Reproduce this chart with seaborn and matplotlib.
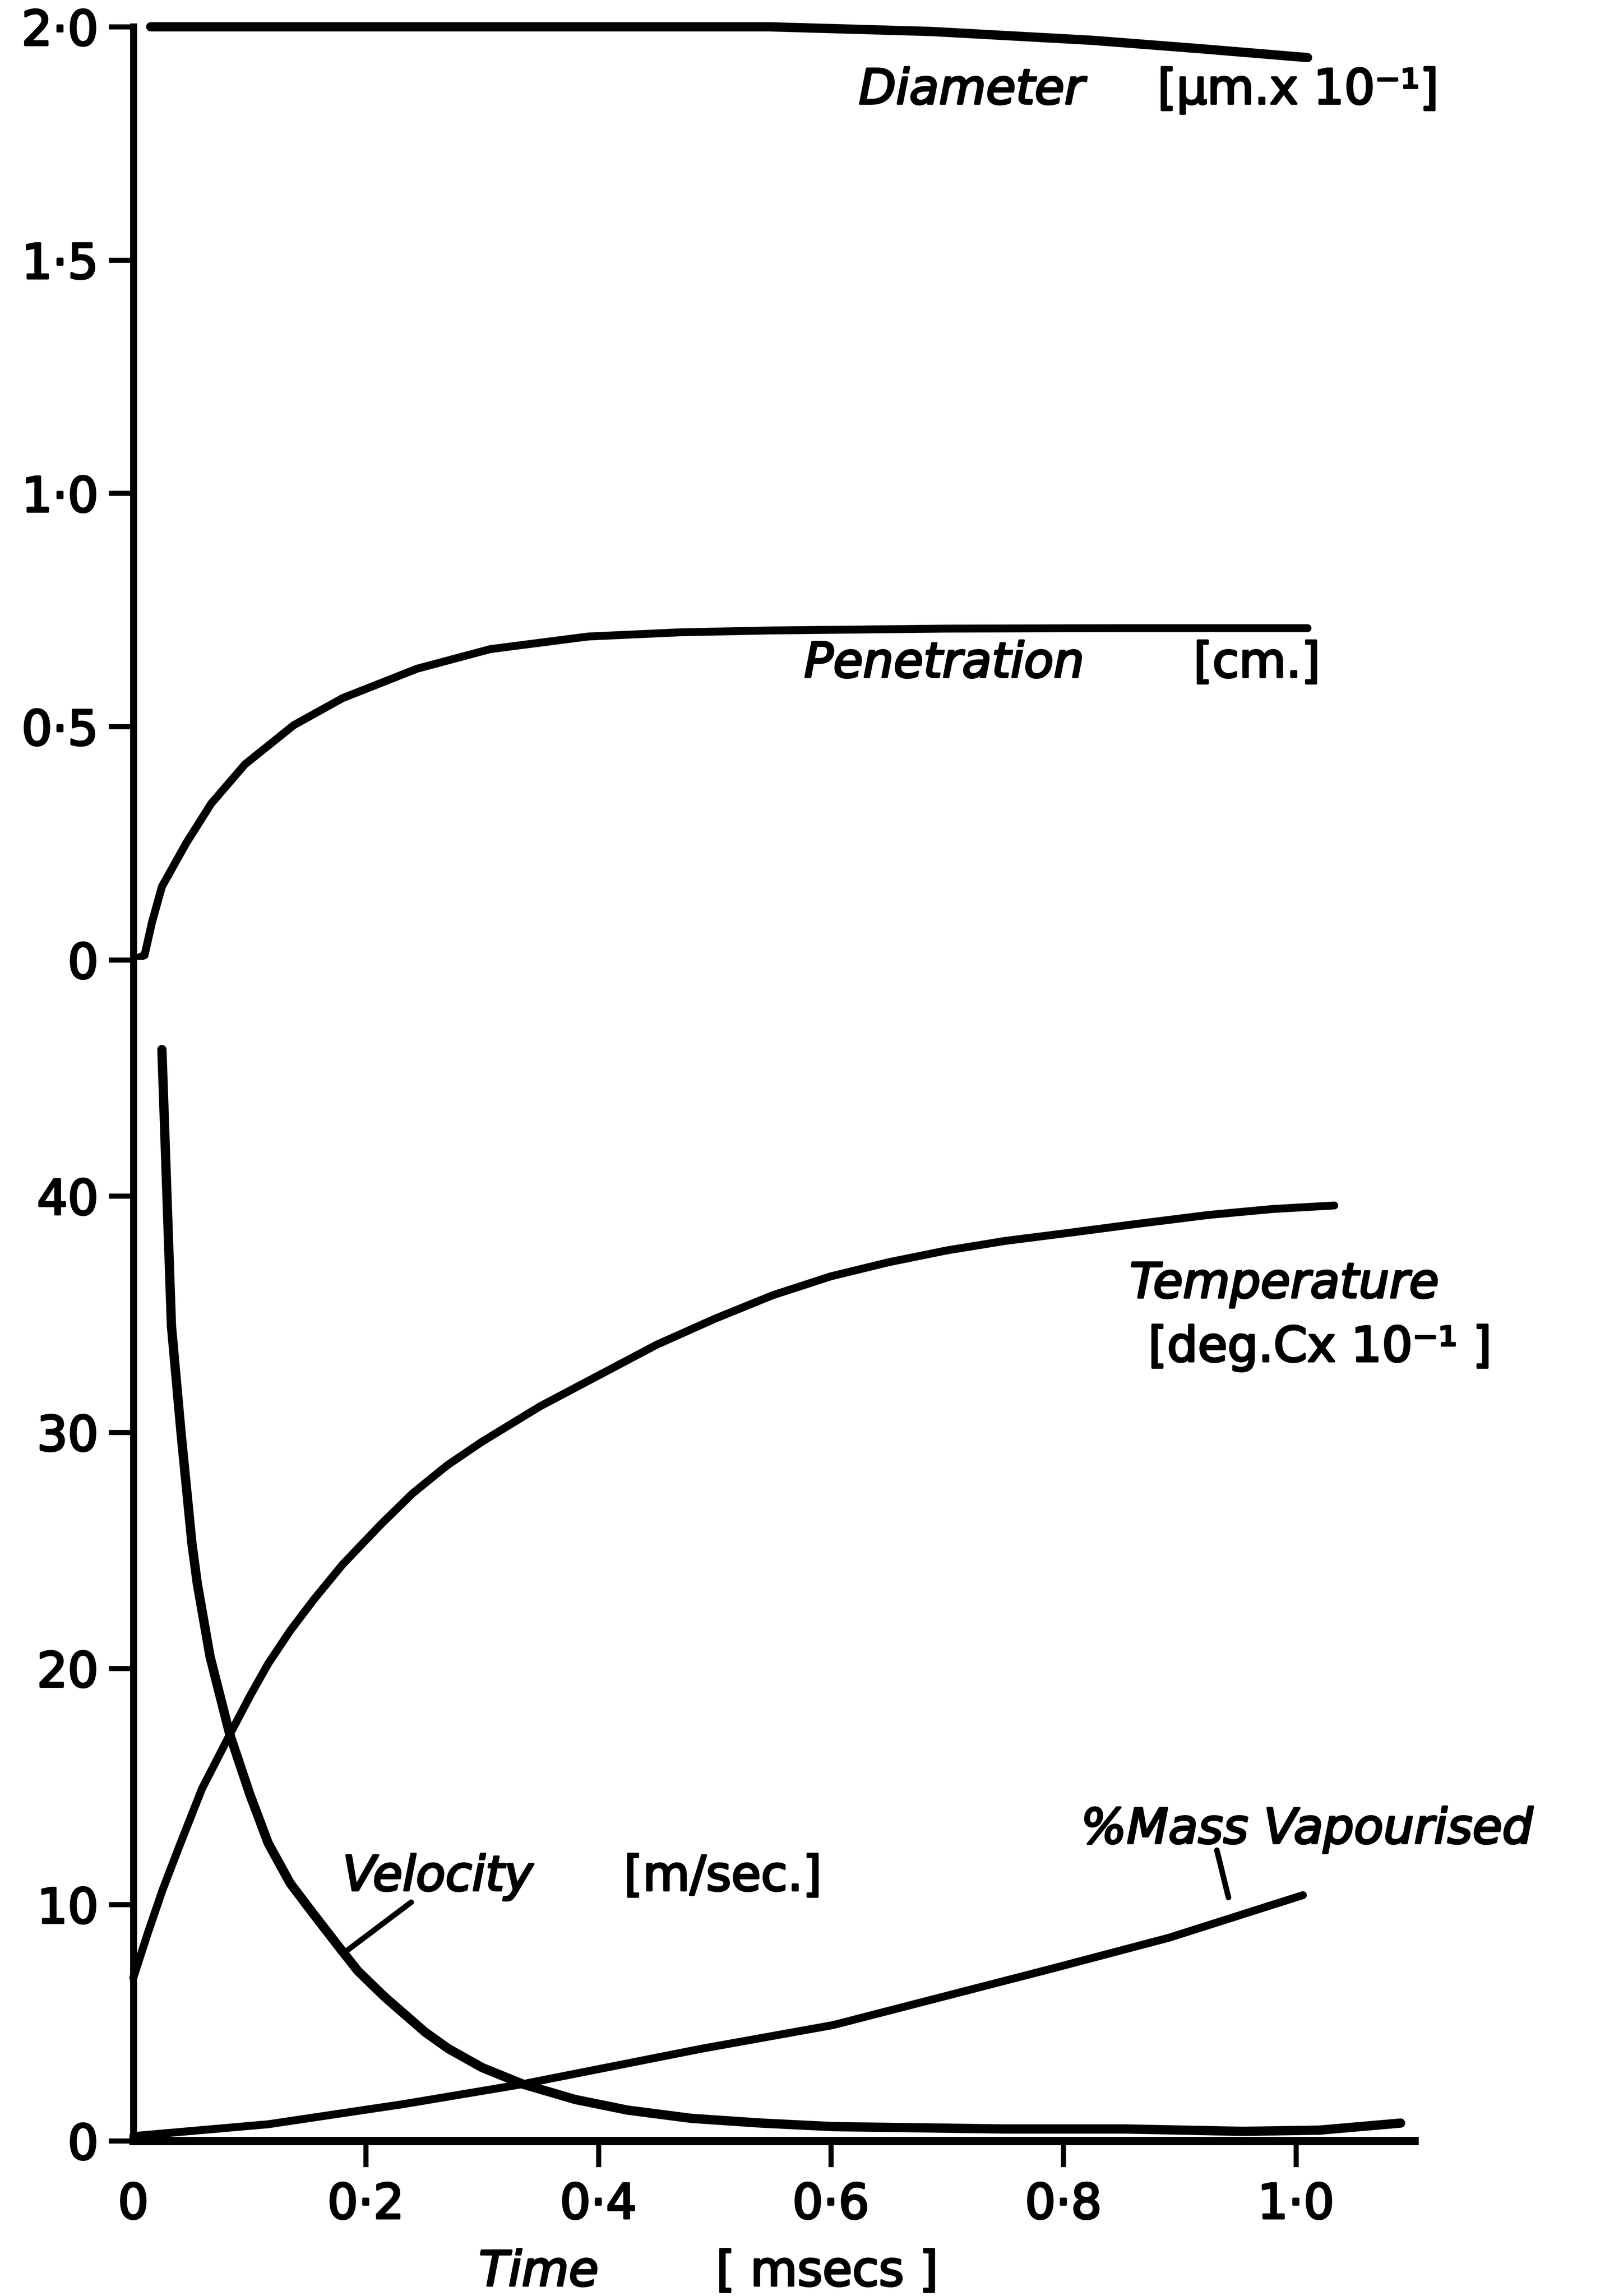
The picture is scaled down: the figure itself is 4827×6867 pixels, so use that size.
import numpy as np
import matplotlib
matplotlib.use("Agg")
import matplotlib.pyplot as plt
import matplotlib.patheffects as pe
import seaborn as sns

# ---- data (time in msec) ----
diam_t = [0.015, 0.547, 0.686, 0.825, 0.918, 1.01]
diam_v = [2.0, 2.0, 1.99, 1.971, 1.953, 1.934]          # diameter, um x 10^-1

pen_t = [0.0, 0.0097, 0.016, 0.0246, 0.0457, 0.067, 0.096, 0.138, 0.18,
         0.244, 0.307, 0.391, 0.47, 0.547, 0.7, 0.85, 1.01]
pen_v = [0.0, 0.01, 0.08, 0.157, 0.251, 0.335, 0.419, 0.503, 0.561,
         0.624, 0.666, 0.693, 0.702, 0.706, 0.71, 0.711, 0.711]   # penetration, cm

temp_t = [0.0, 0.0125, 0.025, 0.039, 0.059, 0.083, 0.1, 0.116, 0.135, 0.155,
          0.18, 0.213, 0.24, 0.27, 0.3, 0.35, 0.4, 0.45, 0.5, 0.55, 0.6,
          0.65, 0.7, 0.75, 0.806, 0.86, 0.925, 0.98, 1.033]
temp_v = [6.9, 8.8, 10.6, 12.4, 14.9, 17.2, 18.8, 20.2, 21.6, 22.9,
          24.4, 26.1, 27.4, 28.6, 29.6, 31.1, 32.4, 33.7, 34.8, 35.8, 36.6,
          37.2, 37.7, 38.1, 38.45, 38.8, 39.2, 39.45, 39.6]   # temperature, deg C x 10^-1

vel_t = [0.0246, 0.0328, 0.041, 0.0504, 0.055, 0.066, 0.083, 0.1, 0.116,
         0.135, 0.155, 0.177, 0.193, 0.216, 0.251, 0.271, 0.3, 0.335, 0.38,
         0.425, 0.48, 0.54, 0.602, 0.75, 0.854, 0.954, 1.02, 1.09]
vel_v = [46.2, 34.5, 30.0, 25.3, 23.6, 20.5, 17.2, 14.7, 12.6,
         10.9, 9.6, 8.2, 7.2, 6.1, 4.6, 3.9, 3.1, 2.4, 1.75,
         1.3, 0.95, 0.75, 0.6, 0.5, 0.5, 0.4, 0.45, 0.75]     # velocity, m/sec

mass_t = [0.0, 0.116, 0.232, 0.335, 0.489, 0.602, 0.791, 0.891, 1.006]
mass_v = [0.2, 0.7, 1.55, 2.4, 3.9, 4.9, 7.3, 8.6, 10.4]     # % mass vapourised

upper_ticks = [0, 0.5, 1.0, 1.5, 2.0]
upper_labels = ["0", "0·5", "1·0", "1·5", "2·0"]
lower_ticks = [0, 10, 20, 30, 40]
lower_labels = ["0", "10", "20", "30", "40"]
time_ticks = [0, 0.2, 0.4, 0.6, 0.8, 1.0]
time_labels = ["0", "0·2", "0·4", "0·6", "0·8", "1·0"]

# ---- style ----
sns.set_theme(style="white")
plt.rcParams["font.family"] = ["DejaVu Sans"]
FS = 104
LW = 17
INK = "black"
INKED = [pe.withStroke(linewidth=4.5, foreground=INK)]

fig = plt.figure(figsize=(48.27, 68.67), dpi=100)
fig.patch.set_facecolor("white")

ax_top = fig.add_axes([0.0826, 0.58195, 0.7938, 0.40638])
ax_bot = fig.add_axes([0.0826, 0.06760, 0.7938, 0.51435])

for ax in (ax_top, ax_bot):
    ax.set_facecolor("white")
    ax.set_xlim(0, 1.102)
    for side in ("top", "right"):
        ax.spines[side].set_visible(False)
    ax.spines["left"].set_linewidth(15)
    ax.spines["left"].set_color(INK)
    ax.tick_params(axis="y", direction="out", length=53, width=11,
                   pad=22, labelsize=FS, colors=INK, left=True)

ax_top.spines["bottom"].set_visible(False)
ax_top.set_ylim(0, 2.0)
ax_top.set_xticks([])
ax_top.set_yticks(upper_ticks, upper_labels)

ax_bot.set_ylim(0, 50)
ax_bot.spines["bottom"].set_linewidth(18)
ax_bot.spines["bottom"].set_color(INK)
ax_bot.set_yticks(lower_ticks, lower_labels)
ax_bot.set_xticks(time_ticks, time_labels)
ax_bot.tick_params(axis="x", direction="out", length=56, width=11,
                   pad=32, labelsize=FS, colors=INK, bottom=True)
ax_bot.xaxis.get_major_ticks()[0].tick1line.set_visible(False)

for ax in (ax_top, ax_bot):
    for lab in ax.get_xticklabels() + ax.get_yticklabels():
        lab.set_path_effects(INKED)

line_kw = dict(color=INK, legend=False, estimator=None, sort=False,
               solid_capstyle="round", solid_joinstyle="round", clip_on=False)

# upper panel curves
sns.lineplot(x=diam_t, y=diam_v, ax=ax_top, linewidth=LW + 3, **line_kw)
sns.lineplot(x=pen_t, y=pen_v, ax=ax_top, linewidth=LW, **line_kw)

# lower panel curves
sns.lineplot(x=temp_t, y=temp_v, ax=ax_bot, linewidth=LW, **line_kw)
sns.lineplot(x=vel_t, y=vel_v, ax=ax_bot, linewidth=LW + 3, **line_kw)
sns.lineplot(x=mass_t, y=mass_v, ax=ax_bot, linewidth=LW, **line_kw)

for ax in (ax_top, ax_bot):
    ax.set_xlabel("")
    ax.set_ylabel("")

# ---- curve labels ----
ital = dict(fontsize=FS, style="italic", color=INK, va="baseline", ha="left",
            path_effects=INKED)
upr = dict(fontsize=FS, color=INK, va="baseline", ha="left",
           path_effects=INKED)

ax_top.text(0.624, 1.835, "Diameter", **ital)
ax_top.text(0.881, 1.835, "[μm.x 10⁻¹]", **upr)
ax_top.text(0.577, 0.606, "Penetration", **ital)
ax_top.text(0.912, 0.606, "[cm.]", **upr)

ax_bot.text(0.857, 35.7, "Temperature", **ital)
ax_bot.text(0.873, 33.0, "[deg.Cx 10⁻¹ ]", **upr)
ax_bot.text(0.180, 10.6, "Velocity", **ital)
ax_bot.text(0.422, 10.6, "[m/sec.]", **upr)
ax_bot.text(0.815, 12.6, "%Mass Vapourised", **ital)

# leader lines
lead = dict(arrowstyle="-", lw=12, color=INK, shrinkA=0, shrinkB=0,
            capstyle="round")
ax_bot.annotate("", xy=(0.181, np.interp(0.181, vel_t, vel_v)),
                xytext=(0.239, 10.1), arrowprops=lead)
ax_bot.annotate("", xy=(0.942, 10.3), xytext=(0.932, 12.3), arrowprops=lead)

# time axis caption
fig.text(0.2967, 0.0045, "Time", **ital)
fig.text(0.4437, 0.0045, "[ msecs ]", **upr)

fig.savefig("out.png", dpi=100, facecolor="white")
